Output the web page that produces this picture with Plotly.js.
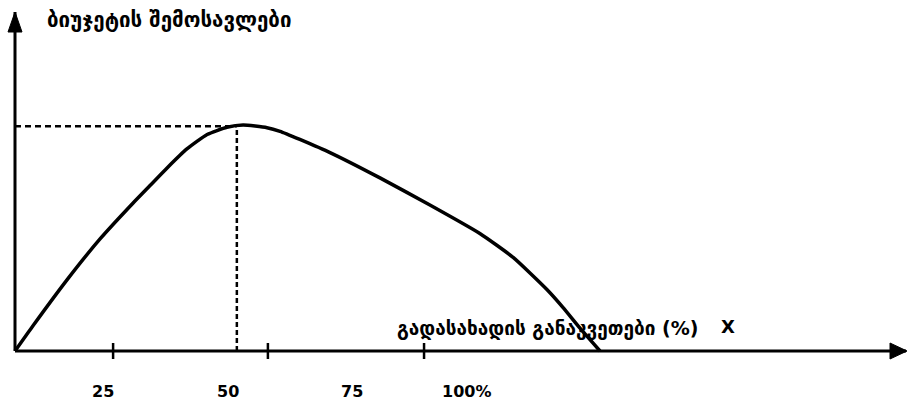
<!DOCTYPE html>
<html>
<head>
<meta charset="utf-8">
<script src="https://cdn.plot.ly/plotly-3.0.1.min.js"></script>
<style>
  html, body { margin: 0; padding: 0; background: #fff; }
  #chart { width: 910px; height: 401px; }
</style>
</head>
<body>
<div id="chart"></div>
<script>
// Laffer curve data (tax rate in %, budget revenue in relative units)
const taxRate = [0, 4, 11.6, 18.9, 26.2, 30, 33.8, 38.2, 42.7, 47.1, 50.7, 56, 58.9, 63.3, 70, 81.1, 92.2, 103.3, 110.7, 118.2, 121.8, 125.6, 130];
const revenue = [0, 11.2, 31.6, 49.6, 65.4, 73.2, 81.0, 89.4, 95.8, 99.0, 100, 98.8, 97.2, 93.6, 87.8, 76.6, 64.6, 52.0, 41.4, 27.2, 19.2, 10.0, 0];

const tickLabels = ['25', '50', '75', '100%'];
const tickLabelX = [19.6, 47.3, 74.9, 100.4];
const tickMarkX = [21.8, 56.2, 90.9];

const peakX = 49.3;
const peakY = 99.5;

const xAxisEnd = 198;
const yAxisEnd = 150;

const yTitle = 'ბიუჯეტის შემოსავლები';
const xTitle = 'გადასახადის განაკვეთები (%)';
const xLetter = 'X';

const font = 'DejaVu Sans, sans-serif';

const shapes = [];
// axes
shapes.push({type: 'line', xref: 'x', yref: 'y', x0: 0, y0: 0, x1: xAxisEnd, y1: 0,
  line: {color: '#000', width: 3}});
shapes.push({type: 'line', xref: 'x', yref: 'y', x0: 0, y0: 0, x1: 0, y1: yAxisEnd,
  line: {color: '#000', width: 3}});
// arrowheads (pixel-sized, anchored at axis ends)
shapes.push({type: 'path', xref: 'x', yref: 'y', xsizemode: 'pixel', ysizemode: 'pixel',
  xanchor: xAxisEnd, yanchor: 0, path: 'M 1 0 L -16 8 L -16 -8 Z',
  fillcolor: '#000', line: {color: '#000', width: 1}});
shapes.push({type: 'path', xref: 'x', yref: 'y', xsizemode: 'pixel', ysizemode: 'pixel',
  xanchor: 0, yanchor: yAxisEnd, path: 'M 0 0 L -7 -20 L 7 -20 Z',
  fillcolor: '#000', line: {color: '#000', width: 1}});
// tick marks
tickMarkX.forEach(function (tx) {
  shapes.push({type: 'line', xref: 'x', yref: 'y', ysizemode: 'pixel', yanchor: 0,
    x0: tx, x1: tx, y0: -8, y1: 8, line: {color: '#000', width: 2.5}});
});
// dashed guides to the peak
shapes.push({type: 'line', xref: 'x', yref: 'y', x0: 0, y0: peakY, x1: peakX, y1: peakY,
  line: {color: '#000', width: 2.5, dash: '6px,4px'}});
shapes.push({type: 'line', xref: 'x', yref: 'y', x0: peakX, y0: 0, x1: peakX, y1: peakY,
  line: {color: '#000', width: 2.5, dash: '5px,3px'}});

const annotations = [];
tickLabels.forEach(function (t, i) {
  annotations.push({x: tickLabelX[i], y: 0, xref: 'x', yref: 'y', text: '<b>' + t + '</b>',
    showarrow: false, xanchor: 'center', yanchor: 'middle', yshift: -40,
    font: {family: font, size: 16, color: '#000'}});
});
annotations.push({x: 45 / 910, y: 1 - 20 / 401, xref: 'paper', yref: 'paper',
  text: '<b>' + yTitle + '</b>', showarrow: false, xanchor: 'left', yanchor: 'middle',
  font: {family: font, size: 20.5, color: '#000'}});
annotations.push({x: 395 / 910, y: 1 - 328 / 401, xref: 'paper', yref: 'paper',
  text: '<b>' + xTitle + '</b>', showarrow: false, xanchor: 'left', yanchor: 'middle',
  font: {family: font, size: 19, color: '#000'}});
annotations.push({x: 728 / 910, y: 1 - 326 / 401, xref: 'paper', yref: 'paper',
  text: '<b>' + xLetter + '</b>', showarrow: false, xanchor: 'center', yanchor: 'middle',
  font: {family: font, size: 18, color: '#000'}});

const trace = {
  x: taxRate, y: revenue, type: 'scatter', mode: 'lines',
  line: {color: '#000', width: 3.5, shape: 'spline', smoothing: 0.5},
  hoverinfo: 'skip'
};

const layout = {
  width: 910, height: 401,
  margin: {l: 0, r: 0, t: 0, b: 0},
  paper_bgcolor: '#fff', plot_bgcolor: '#fff',
  showlegend: false,
  xaxis: {range: [-15 / 4.5, (910 - 15) / 4.5], visible: false, fixedrange: true},
  yaxis: {range: [(351 - 401) / 2.26, 351 / 2.26], visible: false, fixedrange: true},
  shapes: shapes,
  annotations: annotations
};

Plotly.newPlot('chart', [trace], layout, {staticPlot: true});
</script>
</body>
</html>
